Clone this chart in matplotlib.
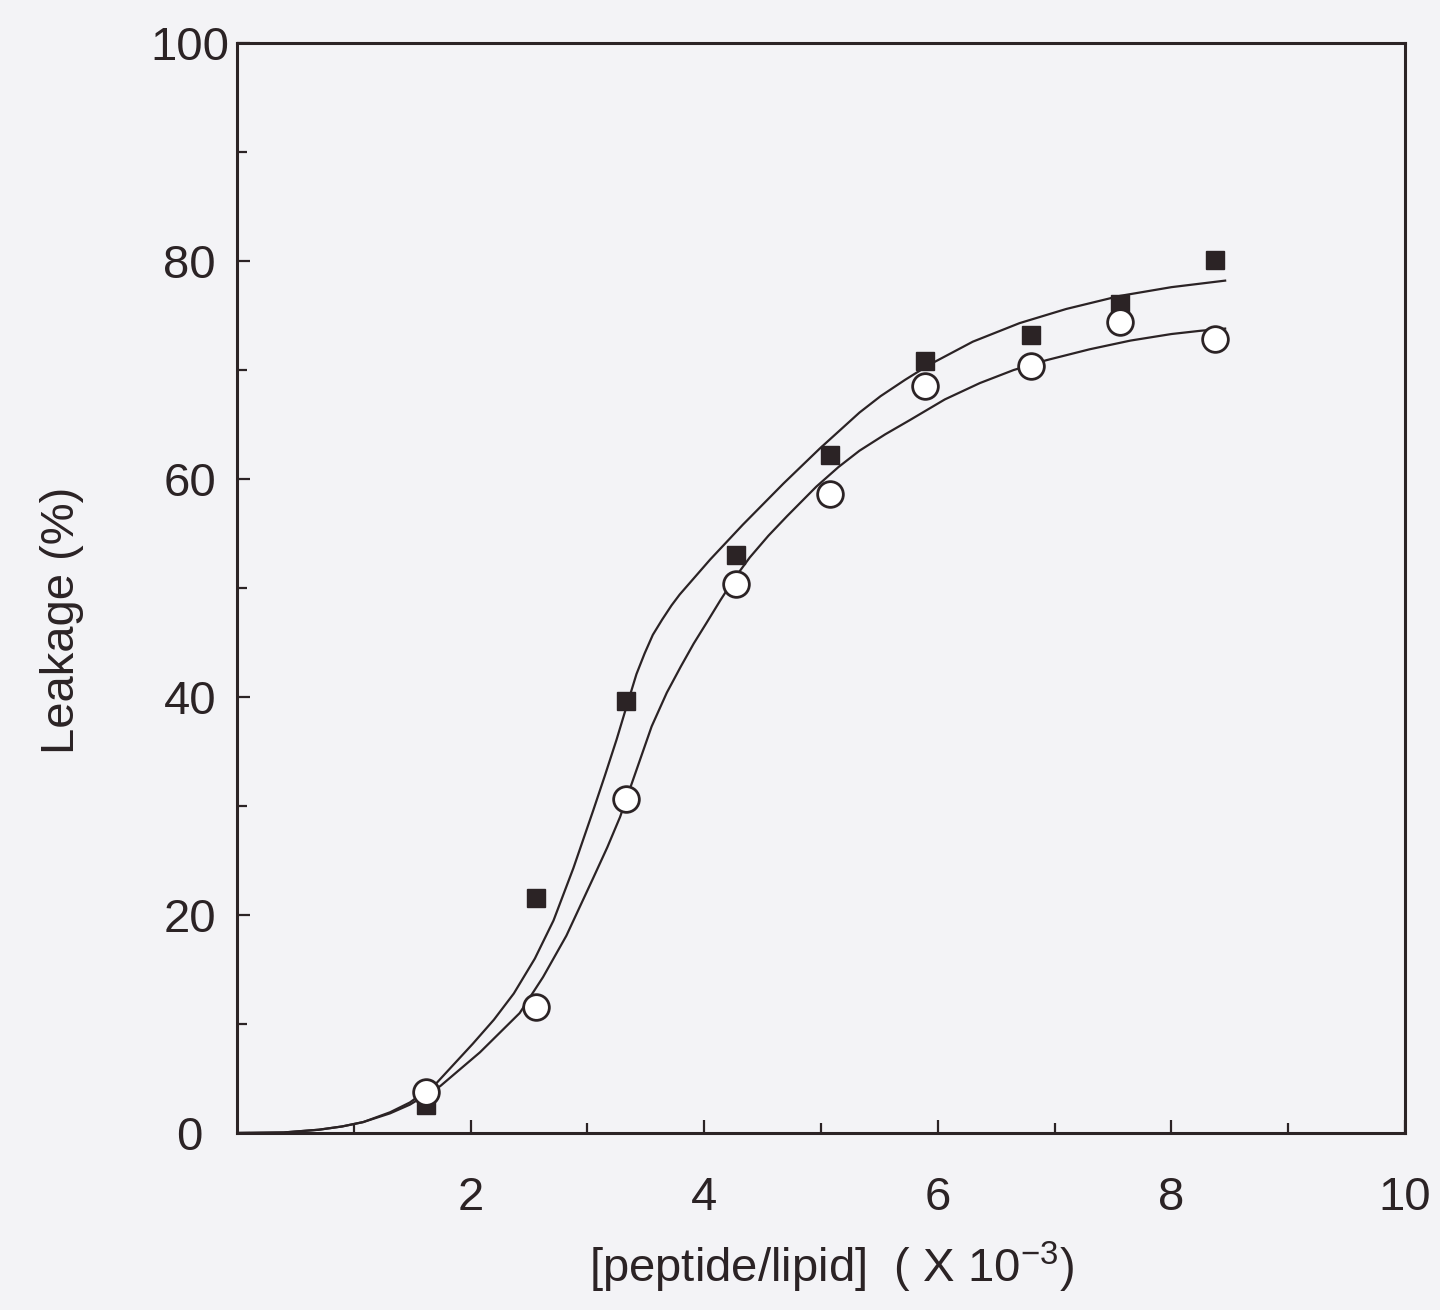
import matplotlib
matplotlib.use("Agg")
import matplotlib.pyplot as plt

# ---- data ----
ratio_x = [1.62, 2.56, 3.33, 4.27, 5.08, 5.89, 6.80, 7.56, 8.37]
leak_squares = [2.6, 21.6, 39.6, 53.0, 62.2, 70.8, 73.2, 76.1, 80.1]
leak_circles = [3.8, 11.6, 30.6, 50.4, 58.6, 68.5, 70.4, 74.4, 72.8]

# fitted curve for the filled squares
fit_upper_x = [0.0, 0.4, 0.7, 0.9, 1.08, 1.31, 1.48, 1.71, 2.02, 2.2, 2.37, 2.55,
               2.71, 2.88, 3.05, 3.15, 3.25, 3.34, 3.42, 3.49, 3.56, 3.64, 3.72,
               3.79, 3.92, 4.05, 4.33, 4.68, 4.99, 5.33, 5.51, 5.72, 5.93, 6.30,
               6.70, 7.10, 7.56, 8.00, 8.46]
fit_upper_y = [0.0, 0.05, 0.3, 0.6, 1.0, 1.9, 2.8, 4.6, 8.2, 10.4, 12.8, 16.0,
               19.5, 24.3, 29.6, 32.8, 36.1, 39.3, 42.1, 44.0, 45.7, 47.1, 48.4,
               49.4, 51.0, 52.6, 55.8, 59.6, 62.8, 66.1, 67.6, 69.1, 70.5, 72.6,
               74.3, 75.6, 76.8, 77.6, 78.2]

# fitted curve for the open circles
fit_lower_x = [0.0, 0.4, 0.7, 0.9, 1.08, 1.31, 1.48, 1.74, 2.08, 2.42, 2.62, 2.82,
               3.05, 3.17, 3.28, 3.42, 3.55, 3.68, 3.80, 3.91, 4.02, 4.14, 4.26,
               4.39, 4.55, 4.71, 4.96, 5.15, 5.33, 5.55, 5.76, 6.06, 6.36, 6.65,
               6.93, 7.30, 7.65, 8.00, 8.25, 8.46]
fit_lower_y = [0.0, 0.05, 0.3, 0.6, 1.0, 1.8, 2.6, 4.3, 7.4, 11.0, 14.3, 18.1,
               23.4, 26.2, 29.0, 33.3, 37.3, 40.4, 42.8, 44.9, 46.8, 48.9, 50.9,
               52.8, 54.8, 56.6, 59.3, 61.1, 62.6, 64.1, 65.4, 67.3, 68.8, 70.0,
               70.9, 71.9, 72.7, 73.3, 73.6, 73.8]

x_major = [2, 4, 6, 8, 10]
x_minor = [1, 3, 5, 7, 9]
y_major = [0, 20, 40, 60, 80, 100]
y_minor = [10, 30, 50, 70, 90]

ink = "#2b2325"
bg = "#f3f3f6"

plt.rcParams["font.family"] = ["Liberation Sans", "DejaVu Sans"]
plt.rcParams["mathtext.fontset"] = "custom"
plt.rcParams["mathtext.rm"] = "Liberation Sans"
plt.rcParams["mathtext.it"] = "Liberation Sans"

W, H = 1440, 1310
fig = plt.figure(figsize=(W / 100, H / 100), dpi=100, facecolor=bg)
ax = fig.add_axes([237 / W, 1 - 1133 / H, 1168 / W, 1090 / H], facecolor=bg)

ax.plot(fit_upper_x, fit_upper_y, color=ink, lw=1.6, zorder=2,
        solid_joinstyle="round")
ax.plot(fit_lower_x, fit_lower_y, color=ink, lw=1.6, zorder=2,
        solid_joinstyle="round")
ax.plot(ratio_x, leak_squares, ls="none", marker="s", ms=13.5, mfc=ink, mec=ink,
        zorder=3)
ax.plot(ratio_x, leak_circles, ls="none", marker="o", ms=18.5, mfc="white",
        mec=ink, mew=2.0, zorder=4)

ax.set_xlim(0, 10)
ax.set_ylim(0, 100)
ax.set_xticks(x_major)
ax.set_xticks(x_minor, minor=True)
ax.set_yticks(y_major)
ax.set_yticks(y_minor, minor=True)

for s in ax.spines.values():
    s.set_linewidth(2.2)
    s.set_color(ink)

ax.tick_params(which="both", direction="in", colors=ink, width=1.6)
ax.tick_params(which="major", length=9.5, labelsize=34, labelcolor=ink)
ax.tick_params(which="minor", length=7.5)
ax.tick_params(axis="x", which="major", pad=31)
ax.tick_params(axis="y", which="major", pad=34)
for lab in ax.get_yticklabels():
    lab.set_horizontalalignment("center")

ax.set_xlabel(r"[peptide/lipid]  ( X 10$^{-3}$)", fontsize=34, color=ink)
ax.xaxis.set_label_coords((831 - 237) / 1168, (1133 - 1240) / 1090)
ax.set_ylabel("Leakage (%)", fontsize=34, color=ink)
ax.yaxis.set_label_coords((84 - 237) / 1168, (1133 - 620) / 1090)

fig.savefig("out.png", dpi=100, facecolor=bg)
